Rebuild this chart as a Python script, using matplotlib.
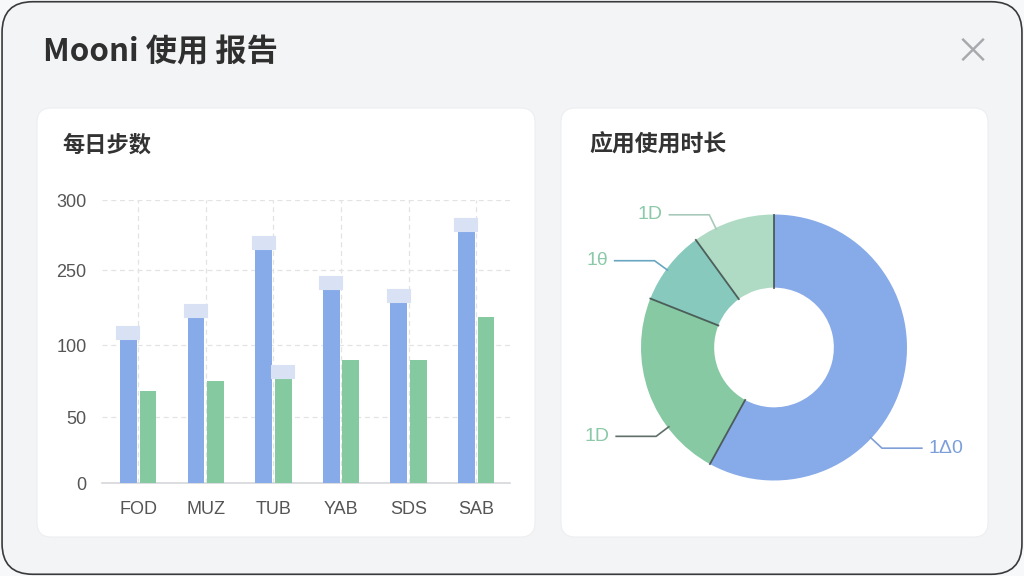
"""
Mooni usage report: daily steps bars + app usage donut
"""
import numpy as np
import matplotlib.pyplot as plt
from matplotlib.patches import FancyBboxPatch
from matplotlib.markers import MarkerStyle
from matplotlib.transforms import Affine2D, ScaledTranslation

plt.rcParams['font.family'] = ['Noto Sans CJK SC', 'DejaVu Sans']

# data
days = ['FOD', 'MUZ', 'TUB', 'YAB', 'SDS', 'SAB']
steps_blue = [112, 157, 265, 213, 186, 278]
steps_green = [68, 75, 77, 90, 90, 157]
capped_green = [False, False, True, False, False, False]
y_ticks = [0, 50, 100, 250, 300]
y_tick_pos = [0, 66, 138, 213, 283]   # the odd axis spacing seen in the picture

usage_vals = [58, 23, 9, 10]
usage_labels = ['1Δ0', '1D', '1θ', '1D']
usage_colors = ['#87aae9', '#86c9a2', '#88c9be', '#afdbc4']
label_colors = ['#7c9fdb', '#8cc9a8', '#8cc9a8', '#8cc9a8']
line_colors = ['#7f9fd6', '#5f6f68', '#6aa6c2', '#a9cabb']
label_angles = [-43, 217, 144, 116]   # where each leader line meets the ring

BLUE = '#87aae9'
GREEN = '#84c9a0'
CAP = '#d8e2f4'
LATIN = ['Liberation Sans', 'DejaVu Sans']

fig = plt.figure(figsize=(10.24, 5.76), dpi=100)
fig.patch.set_facecolor('#f7f8fa')

# dialog background
fig.patches.append(FancyBboxPatch((0.002, 0.003), 0.996, 0.994,
                                  boxstyle='round,pad=0,rounding_size=0.03',
                                  transform=fig.transFigure, facecolor='#f3f4f6',
                                  edgecolor='#3a3a3a', lw=1.2, mutation_aspect=1024 / 576,
                                  zorder=-3))


def card(x0, y0, x1, y1):
    W, H = 1024, 576
    fig.patches.append(FancyBboxPatch((x0 / W, 1 - y1 / H), (x1 - x0) / W, (y1 - y0) / H,
                                      boxstyle='round,pad=0,rounding_size=0.014',
                                      transform=fig.transFigure, facecolor='white',
                                      edgecolor='#eceef1', lw=0.8,
                                      mutation_aspect=1024 / 576, zorder=-2))


card(37, 108, 535, 537)
card(561, 108, 988, 537)

fig.text(43 / 1024, 1 - 52 / 576, 'Mooni 使用 报告', fontsize=22.5, fontweight='bold',
         color='#2f2f2f', va='center', ha='left')
fig.text(973 / 1024, 1 - 53 / 576, '×', fontsize=26, color='#a7a9ac',
         va='center', ha='center')
fig.text(62 / 1024, 1 - 145 / 576, '每日步数', fontsize=16, fontweight='bold',
         color='#333333', va='center', ha='left')
fig.text(589 / 1024, 1 - 145 / 576, '应用使用时长', fontsize=16.5, fontweight='bold',
         color='#333333', va='center', ha='left')

# ---- bar chart ----
ax = fig.add_axes([101.7 / 1024, 1 - 483.3 / 576, (510 - 101.7) / 1024, 283.3 / 576])
ax.set_facecolor('none')


def fwd(v):
    return np.interp(v, y_ticks, y_tick_pos)


def inv(p):
    return np.interp(p, y_tick_pos, y_ticks)


ax.set_yscale('function', functions=(fwd, inv))
x = np.arange(len(days))
off = 0.145
bw = 0.25
ax.bar(x - off, steps_blue, bw, color=BLUE, zorder=3)
ax.bar(x + off, steps_green, bw, color=GREEN, zorder=3)

# light caps on top of bars
cap_marker = MarkerStyle('s', transform=Affine2D().scale(1.0, 0.5))
shift = ax.transData + ScaledTranslation(0, 6 / 100, fig.dpi_scale_trans)
ax.plot(x - off, steps_blue, ls='none', marker=cap_marker, markersize=16,
        markerfacecolor=CAP, markeredgecolor=CAP, markeredgewidth=1.5,
        transform=shift, zorder=4, clip_on=False)
gx = [xi + off for xi, c in zip(x, capped_green) if c]
gy = [v for v, c in zip(steps_green, capped_green) if c]
ax.plot(gx, gy, ls='none', marker=cap_marker, markersize=16,
        markerfacecolor=CAP, markeredgecolor=CAP, markeredgewidth=1.5,
        transform=shift, zorder=4, clip_on=False)

ax.set_xlim(-0.54, 5.5)
ax.set_ylim(0, 300)
ax.set_yticks(y_ticks)
ax.set_yticklabels([str(t) for t in y_ticks], fontfamily=LATIN)
ax.set_xticks(x)
ax.set_xticklabels(days, fontfamily=LATIN)
ax.tick_params(axis='both', length=0, labelsize=13, colors='#555555')
ax.tick_params(axis='y', pad=11)
ax.tick_params(axis='x', pad=13)
ax.grid(True, ls=(0, (4, 3)), color='#e3e3e3', lw=0.9, zorder=0)
for s in ['top', 'right', 'left']:
    ax.spines[s].set_visible(False)
ax.spines['bottom'].set_color('#d5d7da')
ax.spines['bottom'].set_linewidth(1.2)

# ---- donut ----
R = 133.0
half = 175.0
pax = fig.add_axes([(774 - half) / 1024, 1 - (347.5 + half) / 576, 2 * half / 1024, 2 * half / 576])
wedges, _ = pax.pie(usage_vals, colors=usage_colors, startangle=90, counterclock=False,
                    radius=1, wedgeprops=dict(width=0.55, edgecolor='none'))
lim = half / R
pax.set_xlim(-lim, lim)
pax.set_ylim(-lim, lim)
pax.axis('off')

# dark radial separators between slices
for w in wedges:
    a = np.deg2rad(w.theta1)
    pax.plot([0.45 * np.cos(a), np.cos(a)], [0.45 * np.sin(a), np.sin(a)],
             color='#3e4a48', lw=1.3, zorder=5, alpha=0.85)

for lab, ang, lc, tc in zip(usage_labels, label_angles, line_colors, label_colors):
    a = np.deg2rad(ang)
    p0 = (0.99 * np.cos(a), 0.99 * np.sin(a))
    p1 = (1.11 * np.cos(a), 1.11 * np.sin(a))
    side = 1 if p1[0] > 0 else -1
    p2 = (p1[0] + side * 0.3, p1[1])
    pax.plot([p0[0], p1[0], p2[0]], [p0[1], p1[1], p2[1]], color=lc, lw=1.2,
             clip_on=False, zorder=6)
    pax.text(p2[0] + side * 0.05, p2[1], lab, color=tc, fontsize=14,
             fontfamily=LATIN, ha='left' if side > 0 else 'right', va='center',
             clip_on=False)

fig.savefig('out.png', dpi=100, facecolor=fig.get_facecolor())
